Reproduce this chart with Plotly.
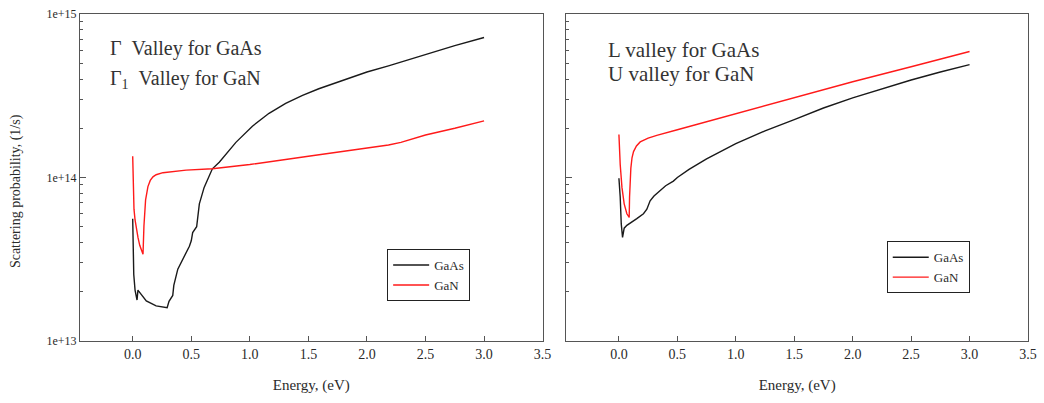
import plotly.graph_objects as go

# ---- data ----
# Left panel: Gamma valley GaAs / Gamma1 valley GaN
gamma_gaas_E = [0.0, 0.004, 0.009, 0.02, 0.03, 0.037, 0.045, 0.051, 0.116, 0.2, 0.294,
                0.30, 0.31, 0.342, 0.351, 0.385, 0.442, 0.484, 0.50, 0.512, 0.546, 0.56,
                0.569, 0.61, 0.68, 0.739, 0.881, 1.022, 1.164, 1.306, 1.45, 1.589, 1.872,
                2.0, 2.184, 2.5, 2.75, 3.0]
gamma_gaas_W = [5.6e13, 3.5e13, 2.55e13, 2.05e13, 1.85e13, 1.78e13, 2.05e13, 2.02e13, 1.76e13,
                1.64e13, 1.6e13, 1.65e13, 1.75e13, 1.9e13, 2.19e13, 2.75e13, 3.3e13, 3.8e13,
                4.1e13, 4.6e13, 5.0e13, 6.0e13, 6.9e13, 8.7e13, 1.13e14, 1.24e14, 1.64e14,
                2.06e14, 2.47e14, 2.84e14, 3.18e14, 3.49e14, 4.1e14, 4.42e14, 4.82e14,
                5.67e14, 6.4e14, 7.18e14]

gamma_gan_E = [0.0, 0.002, 0.005, 0.011, 0.02, 0.031, 0.045, 0.06, 0.075, 0.088, 0.096, 0.11,
               0.13, 0.15, 0.173, 0.2, 0.258, 0.456, 0.68, 0.824, 1.0, 1.5, 1.84, 2.0, 2.184,
               2.29, 2.5, 2.75, 3.0]
gamma_gan_W = [1.35e14, 1.1e14, 8.8e13, 6.4e13, 5.5e13, 4.85e13, 4.3e13, 3.85e13, 3.6e13,
               3.39e13, 5.07e13, 7.3e13, 8.8e13, 9.6e13, 1.01e14, 1.04e14, 1.07e14, 1.11e14,
               1.13e14, 1.16e14, 1.2e14, 1.35e14, 1.46e14, 1.51e14, 1.58e14, 1.64e14, 1.82e14,
               2.0e14, 2.22e14]

# Right panel: L valley GaAs / U valley GaN
l_gaas_E = [0.0, 0.011, 0.02, 0.031, 0.045, 0.068, 0.153, 0.21, 0.239, 0.267, 0.3, 0.352,
            0.4, 0.466, 0.5, 0.6, 0.75, 1.0, 1.25, 1.5, 1.75, 2.0, 2.25, 2.5, 2.75, 3.0]
l_gaas_W = [9.9e13, 7.6e13, 5.2e13, 4.3e13, 4.9e13, 5.1e13, 5.6e13, 6.0e13, 6.4e13, 7.2e13,
            7.7e13, 8.3e13, 8.9e13, 9.5e13, 1.0e14, 1.12e14, 1.3e14, 1.61e14, 1.93e14,
            2.26e14, 2.66e14, 3.07e14, 3.5e14, 3.95e14, 4.42e14, 4.9e14]

u_gan_E = [0.0, 0.004, 0.011, 0.026, 0.045, 0.068, 0.088, 0.091, 0.096, 0.102, 0.112, 0.125,
           0.15, 0.182, 0.25, 0.324, 0.5, 1.0, 1.5, 2.0, 2.5, 3.0]
u_gan_W = [1.83e14, 1.45e14, 1.2e14, 8.7e13, 6.9e13, 6.0e13, 5.7e13, 7.6e13, 9.5e13, 1.14e14,
           1.32e14, 1.44e14, 1.56e14, 1.65e14, 1.74e14, 1.81e14, 1.96e14, 2.45e14, 3.09e14,
           3.85e14, 4.76e14, 5.9e14]

x_ticks = [0.0, 0.5, 1.0, 1.5, 2.0, 2.5, 3.0, 3.5]
y_ticks = [1e13, 1e14, 1e15]
y_tick_text = ["1e+13", "1e+14", "1e+15"]
minor_y = [m * 10 ** e for e in (13, 14) for m in range(2, 10)]

FONT = "Liberation Serif"
TXT = "#2a2a2a"
AX = "#555555"
BLACK = "#1a1a1a"
RED = "#ff1a1a"

fig = go.Figure()
fig.add_trace(go.Scatter(x=gamma_gaas_E, y=gamma_gaas_W, mode="lines", name="GaAs",
                         line=dict(color=BLACK, width=1.4), xaxis="x", yaxis="y", legend="legend"))
fig.add_trace(go.Scatter(x=gamma_gan_E, y=gamma_gan_W, mode="lines", name="GaN",
                         line=dict(color=RED, width=1.4), xaxis="x", yaxis="y", legend="legend"))
fig.add_trace(go.Scatter(x=l_gaas_E, y=l_gaas_W, mode="lines", name="GaAs",
                         line=dict(color=BLACK, width=1.4), xaxis="x2", yaxis="y2", legend="legend2"))
fig.add_trace(go.Scatter(x=u_gan_E, y=u_gan_W, mode="lines", name="GaN",
                         line=dict(color=RED, width=1.4), xaxis="x2", yaxis="y2", legend="legend2"))

xcommon = dict(range=[-0.45, 3.5], tickmode="array", tickvals=x_ticks, tickformat=".1f",
               ticks="inside", ticklen=5, tickcolor=AX, showline=True, linecolor=AX, linewidth=1.2,
               mirror=True, showgrid=False, zeroline=False,
               tickfont=dict(family=FONT, size=14, color=TXT),
               title=dict(text="Energy, (eV)", font=dict(family=FONT, size=15, color=TXT), standoff=18))
ycommon = dict(type="log", range=[13, 15], tickmode="array", tickvals=y_ticks,
               ticks="inside", ticklen=6, tickcolor=AX, showline=True, linecolor=AX, linewidth=1.2,
               mirror=True, showgrid=False, zeroline=False,
               minor=dict(tickmode="array", tickvals=minor_y, ticks="inside", ticklen=3,
                          tickcolor=AX, showgrid=False),
               tickfont=dict(family=FONT, size=12, color=TXT))

fig.update_layout(
    width=1044, height=403,
    margin=dict(l=80, r=11, t=7, b=62),
    paper_bgcolor="white", plot_bgcolor="white",
    xaxis=dict(domain=[0, 0.488], anchor="y", **xcommon),
    xaxis2=dict(domain=[0.513, 1], anchor="y2", **xcommon),
    yaxis=dict(domain=[0, 1], anchor="x", ticktext=y_tick_text, showticklabels=True, **ycommon),
    yaxis2=dict(domain=[0, 1], anchor="x2", showticklabels=False, **ycommon),
    legend=dict(x=0.324, y=0.281, xanchor="left", yanchor="top", bgcolor="white",
                bordercolor="#222222", borderwidth=1, itemwidth=36,
                font=dict(family=FONT, size=13, color=TXT), tracegroupgap=0),
    legend2=dict(x=0.851, y=0.305, xanchor="left", yanchor="top", bgcolor="white",
                 bordercolor="#222222", borderwidth=1, itemwidth=36,
                 font=dict(family=FONT, size=13, color=TXT), tracegroupgap=0),
    showlegend=True,
)

# y-axis title (placed as in the reference, slightly below the axis centre)
fig.add_annotation(text="Scattering probability, (1/s)", xref="paper", yref="paper",
                   x=-0.068, y=0.457, xanchor="center", yanchor="middle", textangle=-90,
                   showarrow=False, font=dict(family=FONT, size=14, color=TXT))

ann_font = dict(family=FONT, size=20, color="#333333")
ann_font2 = dict(family=FONT, size=21, color="#333333")
fig.add_annotation(text="\u0393\u00a0 Valley for GaAs", xref="paper", yref="paper",
                   x=0.0295, y=0.893, xanchor="left", yanchor="middle", showarrow=False, font=ann_font)
fig.add_annotation(text="\u0393<sub>1</sub>\u00a0 Valley for GaN", xref="paper", yref="paper",
                   x=0.0295, y=0.80, xanchor="left", yanchor="middle", showarrow=False, font=ann_font)
fig.add_annotation(text="L valley for GaAs", xref="paper", yref="paper",
                   x=0.555, y=0.890, xanchor="left", yanchor="middle", showarrow=False, font=ann_font2)
fig.add_annotation(text="U valley for GaN", xref="paper", yref="paper",
                   x=0.555, y=0.815, xanchor="left", yanchor="middle", showarrow=False, font=ann_font2)

fig.write_html("out.html")
